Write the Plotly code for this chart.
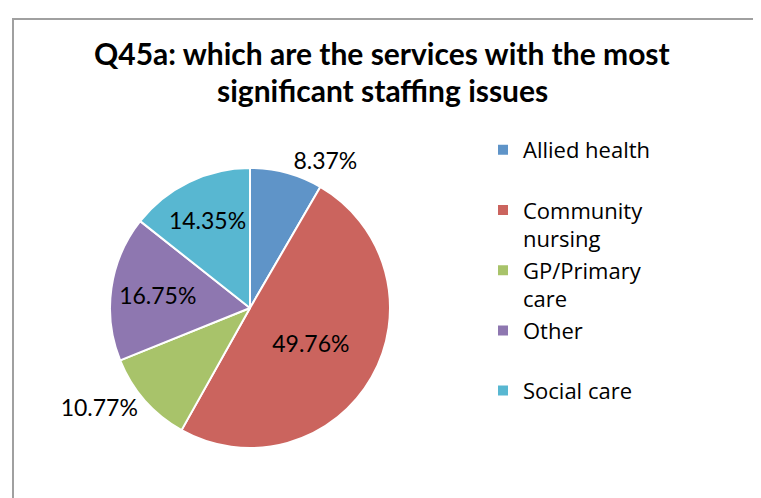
import plotly.graph_objects as go

labels = ["Allied health", "Community nursing", "GP/Primary care", "Other", "Social care"]
legend_text = ["Allied health<br> ", "Community<br>nursing", "GP/Primary<br>care", "Other<br> ", "Social care"]
values = [8.37, 49.76, 10.77, 16.75, 14.35]
colors = ["#5F94C8", "#CB645E", "#A8C36A", "#8E77B0", "#58B7D1"]
text_pos = ["outside", "inside", "outside", "inside", "inside"]
title_lines = ["Q45a: which are the services with the most", "significant staffing issues"]

FONT = "Lato"

fig = go.Figure()
fig.add_trace(go.Pie(
    labels=legend_text,
    values=values,
    sort=False,
    direction="clockwise",
    rotation=0,
    marker=dict(colors=colors, line=dict(color="white", width=2)),
    texttemplate="%{value:.2f}%",
    textposition=text_pos,
    insidetextorientation="horizontal",
    textfont=dict(family=FONT, size=23, color="black"),
    domain=dict(x=[102 / 761, 382 / 761], y=[1 - 440 / 498, 1 - 160 / 498]),
    hoverinfo="label+percent",
))

# title as two lines so the line spacing matches
for i, line in enumerate(title_lines):
    fig.add_annotation(
        text="<b>%s</b>" % line,
        x=374 / 761, y=1 - (45 + 37 * i) / 498, xref="paper", yref="paper",
        xanchor="center", yanchor="middle", showarrow=False,
        font=dict(family=FONT, size=30, color="black"),
    )

fig.update_layout(
    width=761,
    height=498,
    margin=dict(l=0, r=0, t=0, b=0),
    paper_bgcolor="white",
    font=dict(family=FONT, color="black"),
    showlegend=True,
    legend=dict(
        x=475 / 761, y=1 - 121 / 498, xanchor="left", yanchor="top",
        valign="top",
        font=dict(family="Open Sans", size=22, color="black"),
        itemwidth=30,
    ),
    shapes=[dict(
        type="rect", xref="paper", yref="paper",
        x0=5 / 761, x1=1.02, y0=-0.02, y1=1 - 11 / 498,
        line=dict(color="#A0A0A0", width=2),
    )],
)

fig.write_html("out.html")
